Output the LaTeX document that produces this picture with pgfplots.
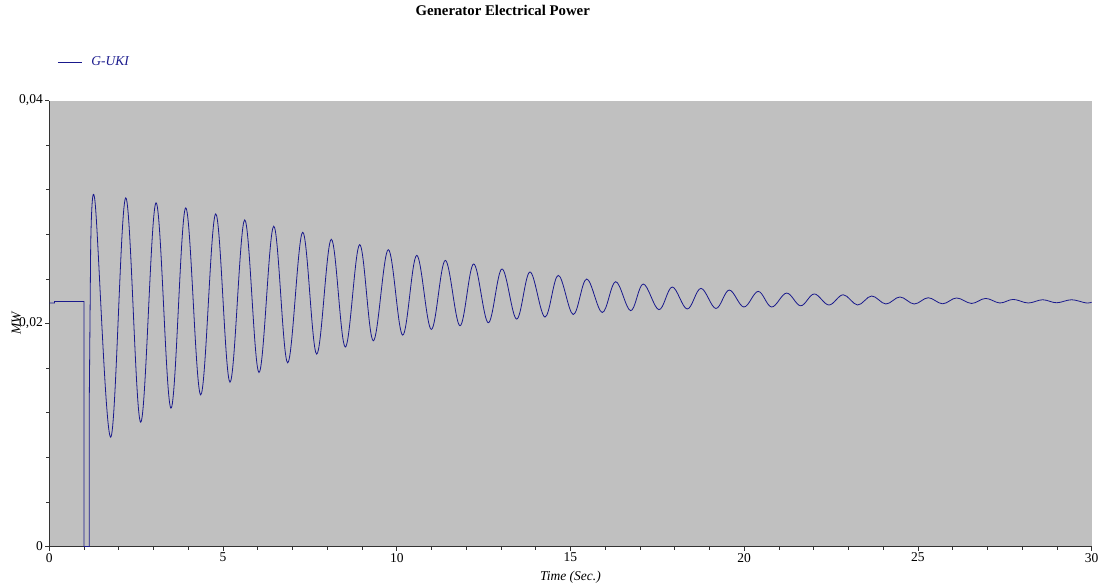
\documentclass[border=0pt]{standalone}
\usepackage{pgfplots}
\pgfplotsset{compat=1.18}
\usepackage{fontspec}
\setmainfont{Liberation Serif}
\definecolor{navyline}{RGB}{25,25,140}
\definecolor{plotgray}{RGB}{192,192,192}

\begin{document}
\begin{tikzpicture}
  \path[use as bounding box] (-49.3pt,-37.5pt) rectangle (1052.7pt,546.5pt);
  \begin{axis}[
      at={(0pt,0pt)}, anchor=south west,
      scale only axis, width=1042.4pt, height=446pt,
      xmin=0, xmax=30, ymin=0, ymax=0.04,
      axis x line*=bottom, axis y line*=left,
      axis line style={black!80, line width=0.8pt},
      axis background/.style={fill=plotgray},
      xtick={0,5,...,30}, minor x tick num=4,
      ytick={0,0.02,0.04}, minor y tick num=4,
      tick align=outside,
      major tick length=4pt, minor tick length=3pt,
      tick style={black!80, line width=0.6pt},
      scaled y ticks=false,
      /pgf/number format/assume math mode=true,
      y tick label style={/pgf/number format/fixed, /pgf/number format/precision=2,
        /pgf/number format/use comma, xshift=1pt},
      ticklabel style={font=\fontsize{13.5}{15}\selectfont},
      x tick label style={yshift=1pt},
      title={\bfseries Generator Electrical Power},
      title style={at={(axis description cs:0.435,1.189)}, anchor=center,
        font=\fontsize{14.8}{17}\selectfont},
      xlabel={\itshape Time (Sec.)},
      xlabel style={at={(axis description cs:0.5,0)}, anchor=center, yshift=-30.5pt,
        font=\fontsize{13.5}{15}\selectfont},
      ylabel={\itshape MW},
      ylabel style={at={(axis description cs:0,0.5)}, anchor=center, yshift=33pt,
        font=\fontsize{13.5}{15}\selectfont},
      legend style={draw=none, fill=none, at={(axis description cs:0,1)}, anchor=west,
        xshift=8pt, yshift=38.5pt, font=\fontsize{13.5}{15}\selectfont\itshape\color{navyline},
        inner sep=0pt, column sep=7pt},
      legend image code/.code={\draw[#1] (0pt,0pt) -- (24pt,0pt);},
      legend cell align=left,
    ]
    \addplot[color=navyline, line width=0.8pt, sharp plot] coordinates {
      (0,0.02184) (0.15,0.02184) (0.15,0.02198) (1.0,0.02198) (1.0,0)
      (1.15,0) (1.15,0.0129) (1.19,0.0266)
    };
    \addlegendentry{G-UKI}
    \addplot[color=navyline, line width=0.8pt, smooth, tension=0.6, forget plot] coordinates {
      (1.19,0.0266)
      (1.315,0.03095) (1.767,0.00981) (2.199,0.03127) (2.630,0.01115)
      (3.071,0.03082) (3.502,0.01241) (3.925,0.03037) (4.357,0.01360)
      (4.788,0.02983) (5.200,0.01474) (5.623,0.02929) (6.035,0.01561)
      (6.458,0.02872) (6.860,0.01648) (7.292,0.02818) (7.695,0.01726)
      (8.115,0.02755) (8.518,0.01789) (8.932,0.02707) (9.324,0.01845)
      (9.755,0.02662) (10.170,0.01896) (10.573,0.02611) (10.993,0.01947)
      (11.396,0.02566) (11.819,0.01980) (12.213,0.02534) (12.633,0.02007)
      (13.027,0.02489) (13.450,0.02040) (13.833,0.02462) (14.265,0.02058)
      (14.647,0.02432) (15.079,0.02081) (15.465,0.02399) (15.914,0.02099)
      (16.299,0.02375) (16.731,0.02115) (17.094,0.02354) (17.545,0.02124)
      (17.928,0.02327) (18.360,0.02130) (18.754,0.02315) (19.185,0.02135)
      (19.568,0.02300) (19.991,0.02148) (20.403,0.02288) (20.789,0.02148)
      (21.220,0.02273) (21.624,0.02159) (22.014,0.02265) (22.437,0.02166)
      (22.849,0.02258) (23.263,0.02166) (23.666,0.02247) (24.077,0.02175)
      (24.481,0.02238) (24.892,0.02175) (25.295,0.02231) (25.709,0.02177)
      (26.112,0.02229) (26.544,0.02180) (26.947,0.02225) (27.358,0.02184)
      (27.741,0.02216) (28.173,0.02184) (28.587,0.02213) (28.990,0.02186)
      (29.420,0.02213) (29.830,0.02185) (30.0,0.02190)
    };
  \end{axis}
\end{tikzpicture}
\end{document}
